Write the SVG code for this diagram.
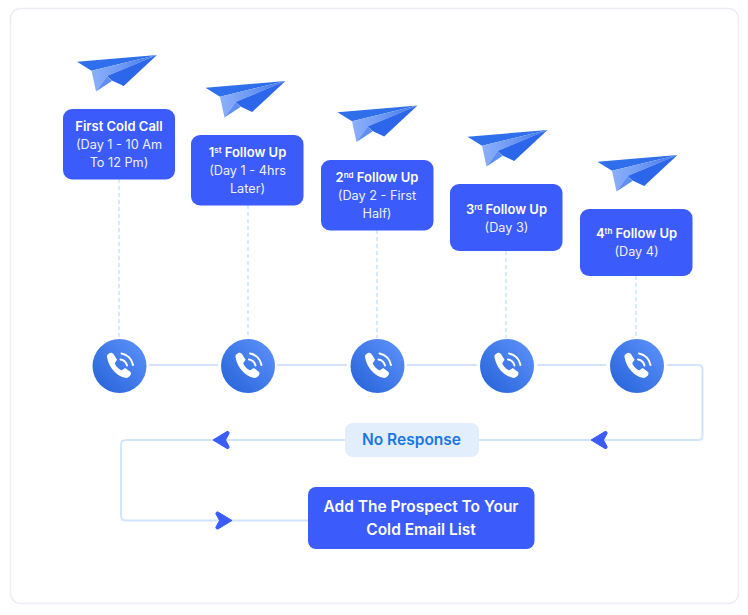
<svg xmlns="http://www.w3.org/2000/svg" width="748" height="615" viewBox="0 0 748 615">
<style>
text{font-family:"Inter","Liberation Sans",sans-serif;text-anchor:middle;fill:#fff}
.t{font-size:13px;font-weight:600}
.s{font-size:12.700px;font-weight:400;fill:#eef1ff}
.sup{font-size:8px;font-weight:600}
.box{fill:#3b5bfb}
.dash{stroke:#cde6f8;stroke-width:1.6;stroke-dasharray:4 3;fill:none}
.line{stroke:#d0e5fd;stroke-width:2;fill:none}
.big{font-size:15.500px;font-weight:600}
</style>
<defs>
<linearGradient id="g" x1="0" y1="1" x2="1" y2="0"><stop offset="0" stop-color="#2462d8"/><stop offset="1" stop-color="#5f93fb"/></linearGradient>
<linearGradient id="w" gradientUnits="userSpaceOnUse" x1="14" y1="0" x2="80" y2="0"><stop offset="0" stop-color="#8cb0fa"/><stop offset=".45" stop-color="#6f9af4"/><stop offset="1" stop-color="#3a74ee"/></linearGradient>
<g id="plane">
<path d="M0 6.700 L80 0 L14.500 15.700Z" fill="#2f6fec"/>
<path d="M14.500 15.700 L80 0 L30 21 L19 36.500Z" fill="url(#w)"/>
<path d="M30 21 L35 26 L19 36.500Z" fill="#5f8ff2"/>
<path d="M80 0 L46.700 31 L35 25.500 L30 21Z" fill="#2c66ea"/>
</g>
<g id="phone">
<circle r="27" fill="url(#g)"/>
<path d="M-12.500 -8.500 C-13.500 -11 -10.500 -13.500 -8 -13.500 L-6 -12.500 L-2 -6 L-4.500 -2.500 C-3.500 0.500 0 4 3 5 L6.500 2.500 L12.500 7 L12.500 9.500 C11 12 8.500 13.500 6.500 13 C-2 11 -10.500 3 -12.500 -8.500Z" fill="#fff" transform="translate(-0.500 -0.500) scale(.95)"/>
<path d="M1 -6.500 A8 8 0 0 1 7.500 -0.500 M2 -12.500 A14 14 0 0 1 13.500 -1" stroke="#fff" stroke-width="2" fill="none" stroke-linecap="round"/>
</g>
<path id="head" d="M0 0 L14 -8.500 C15.500 -9 16.500 -7.500 16 -6.500 L12.500 0 L16 6.500 C16.500 7.500 15.500 9 14 8.500Z" fill="#3b5bfb" stroke="#3b5bfb" stroke-width="1" stroke-linejoin="round"/>
</defs>
<rect width="748" height="615" fill="#fff"/>
<rect x="10.500" y="8.500" width="728" height="595" rx="10" fill="#fff" stroke="#eceef3" stroke-width="1.500"/>
<g id="connectors">
<path class="dash" d="M119 179V338M248 205V338M377 230V338M506 251V338M636 276V338"/>
<path class="line" d="M149 365H218M277 365H347M407 365H477M537 365H606M667 365H698Q702.500 365 702.500 369.500V435.500Q702.500 440 698 440H478M345 440H126Q121 440 121 445V516Q121 520.500 126 520.500H308"/>
<use href="#head" x="213" y="440"/>
<use href="#head" x="591" y="440"/>
<use href="#head" transform="translate(232 520.500) rotate(180)"/>
</g>
<g id="plane1"><use href="#plane" x="77" y="55"/></g>
<g id="plane2"><use href="#plane" x="205.500" y="81"/></g>
<g id="plane3"><use href="#plane" x="337.500" y="105.500"/></g>
<g id="plane4"><use href="#plane" x="467.500" y="130"/></g>
<g id="plane5"><use href="#plane" x="597.500" y="155"/></g>
<g id="node1"><rect class="box" x="63" y="109" width="112" height="70.500" rx="9"/>
<text class="t" x="119" y="131">First Cold Call</text><text class="s" x="119" y="149">(Day 1 - 10 Am</text><text class="s" x="119" y="167">To 12 Pm)</text></g>
<g id="node2"><rect class="box" x="191" y="135" width="112.500" height="70.500" rx="9"/>
<text class="t" x="247.500" y="156.500">1<tspan class="sup" dy="-4">st</tspan><tspan dy="4"> Follow Up</tspan></text><text class="s" x="247.500" y="175">(Day 1 - 4hrs</text><text class="s" x="247.500" y="193">Later)</text></g>
<g id="node3"><rect class="box" x="321" y="160" width="112.500" height="70.500" rx="9"/>
<text class="t" x="377" y="181.500">2<tspan class="sup" dy="-4">nd</tspan><tspan dy="4"> Follow Up</tspan></text><text class="s" x="377" y="200">(Day 2 - First</text><text class="s" x="377" y="218">Half)</text></g>
<g id="node4"><rect class="box" x="450" y="184" width="112.500" height="67" rx="9"/>
<text class="t" x="506.500" y="213.500">3<tspan class="sup" dy="-4">rd</tspan><tspan dy="4"> Follow Up</tspan></text><text class="s" x="506.500" y="232">(Day 3)</text></g>
<g id="node5"><rect class="box" x="580" y="209" width="112.500" height="67" rx="9"/>
<text class="t" x="636.500" y="238">4<tspan class="sup" dy="-4">th</tspan><tspan dy="4"> Follow Up</tspan></text><text class="s" x="636.500" y="256">(Day 4)</text></g>
<g id="call1"><use href="#phone" x="119.500" y="366"/></g>
<g id="call2"><use href="#phone" x="248" y="366"/></g>
<g id="call3"><use href="#phone" x="377.500" y="366"/></g>
<g id="call4"><use href="#phone" x="507" y="366"/></g>
<g id="call5"><use href="#phone" x="637" y="366"/></g>
<g id="no-response"><rect x="345" y="423" width="134" height="34" rx="8" fill="#e3eefc"/>
<text x="411.500" y="445" style="font-size:15.500px;font-weight:600;fill:#1a76e4">No Response</text></g>
<g id="add-prospect"><rect class="box" x="308" y="487" width="226.500" height="62" rx="8"/>
<text class="big" x="421" y="511.500">Add The Prospect To Your</text><text class="big" x="421" y="534.500">Cold Email List</text></g>
</svg>
